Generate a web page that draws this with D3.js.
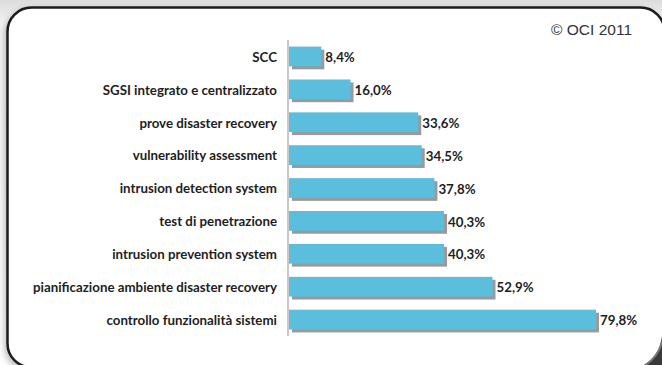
<!DOCTYPE html>
<html><head><meta charset="utf-8">
<script src="https://cdn.jsdelivr.net/npm/d3@7"></script>
<style>html,body{margin:0;padding:0;background:#fff}svg{display:block}</style>
</head><body>
<svg id="c" width="662" height="365"></svg>
<script>
const categories = ["SCC","SGSI integrato e centralizzato","prove disaster recovery","vulnerability assessment","intrusion detection system","test di penetrazione","intrusion prevention system","pianificazione ambiente disaster recovery","controllo funzionalità sistemi"];
const values = [8.4,16.0,33.6,34.5,37.8,40.3,40.3,52.9,79.8];
const valueLabels = ["8,4%","16,0%","33,6%","34,5%","37,8%","40,3%","40,3%","52,9%","79,8%"];
const credit = "© OCI 2011";

const svg = d3.select("#c");
const defs = svg.append("defs");
const g1 = defs.append("linearGradient").attr("id","bg").attr("x1",0).attr("y1",0).attr("x2",0).attr("y2",1);
g1.append("stop").attr("offset","0%").attr("stop-color","#dcdcdc");
g1.append("stop").attr("offset","6%").attr("stop-color","#f2f2f2");
g1.append("stop").attr("offset","100%").attr("stop-color","#ffffff");
const f = defs.append("filter").attr("id","sh").attr("x","-10%").attr("y","-10%").attr("width","120%").attr("height","120%");
f.append("feDropShadow").attr("dx",-2).attr("dy",3).attr("stdDeviation",3).attr("flood-color","#000").attr("flood-opacity",0.25);

svg.append("rect").attr("width",662).attr("height",365).attr("fill","url(#bg)");
svg.append("rect").attr("x",7.5).attr("y",7.5).attr("width",657).attr("height",360).attr("rx",24)
  .attr("fill","#fff").attr("stroke","#1a1a1a").attr("stroke-width",2.5).attr("filter","url(#sh)");
svg.append("path").attr("d","M662,336 C660,352 652,362 640,368 L662,368 Z").attr("fill","#3a3a3a");
svg.append("path").attr("d","M662,342 C659,354 652,361 644,366").attr("fill","none").attr("stroke","#777").attr("stroke-width",2);

const x = d3.scaleLinear().domain([0,100]).range([289, 289 + 384.7]);
const y = d3.scaleBand().domain(categories).range([40,336]).paddingInner(0.4).paddingOuter(0.2);
const FONT = "Lato, 'Open Sans', sans-serif";

const rows = svg.append("g").selectAll("g.row").data(categories.map((c,i)=>({c,v:values[i],l:valueLabels[i]}))).join("g").attr("class","row");
rows.append("rect").attr("x",x(0)+3).attr("y",d=>y(d.c)+3).attr("width",d=>x(d.v)-x(0)).attr("height",y.bandwidth()).attr("fill","#9a9a9a");
rows.append("rect").attr("x",x(0)).attr("y",d=>y(d.c)).attr("width",d=>x(d.v)-x(0)).attr("height",y.bandwidth()).attr("fill","#5bbedd");
rows.append("text").attr("x",d=>x(d.v)+4).attr("y",d=>y(d.c)+y.bandwidth()/2+1).attr("dy","0.35em")
  .attr("font-family",FONT).attr("font-weight","bold").attr("font-size","13.3px").attr("fill","#1e1e1e").text(d=>d.l);

const axis = d3.axisLeft(y).tickSize(0).tickPadding(11);
const ga = svg.append("g").attr("transform",`translate(${x(0)-1},0)`).call(axis);
ga.select(".domain").attr("stroke","#c8c8c8").attr("stroke-width",2).attr("d","M0,40V336");
ga.selectAll("text").attr("font-family",FONT).attr("font-weight","bold").attr("font-size","13.3px").attr("fill","#1e1e1e").attr("dy","0.4em");

svg.append("text").attr("x",632).attr("y",35).attr("text-anchor","end").attr("font-family","'Liberation Sans', Arial, sans-serif")
  .attr("font-size","15.5px").attr("fill","#333").text(credit);
</script>
</body></html>
